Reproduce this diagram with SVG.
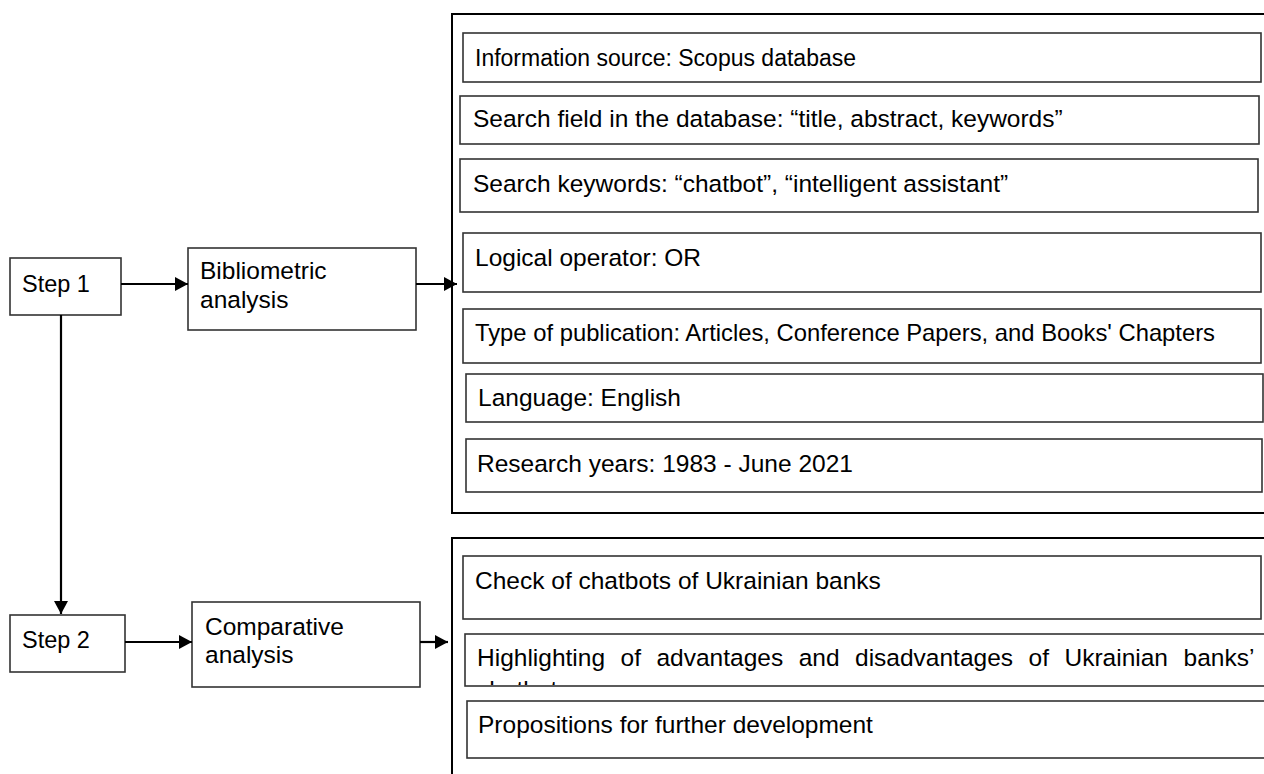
<svg xmlns="http://www.w3.org/2000/svg" width="1264" height="774" viewBox="0 0 1264 774">
<style>
.box{fill:#fff;stroke:#333;stroke-width:1.6}
.cont{fill:none;stroke:#000;stroke-width:2}
.conn{fill:none;stroke:#000;stroke-width:2.2}
text{font-family:"Liberation Sans",Arial,sans-serif;font-size:24.5px;fill:#000}
</style>
<defs>
<marker id="arr" markerUnits="userSpaceOnUse" markerWidth="14" markerHeight="16" refX="13" refY="8" orient="auto">
<path d="M0,1 L13,8 L0,15 z" fill="#000"/>
</marker>
<clipPath id="clipHL"><rect x="465" y="634" width="800" height="51"/></clipPath>
</defs>
<rect width="1264" height="774" fill="#fff"/>

<g id="container1"><path class="cont" d="M1270,14 H452 V513 H1270"/></g>
<g id="container2"><path class="cont" d="M1270,538 H452 V780"/></g>

<g id="step1"><rect class="box" x="10" y="258" width="111" height="57"/><text x="22" y="292" style="font-size:23.5px">Step 1</text></g>
<g id="biblio"><rect class="box" x="188" y="248" width="228" height="82"/><text x="200" y="279">Bibliometric</text><text x="200" y="308">analysis</text></g>
<g id="step2"><rect class="box" x="10" y="615" width="115" height="57"/><text x="22" y="648" style="font-size:23.5px">Step 2</text></g>
<g id="comp"><rect class="box" x="192" y="602" width="228" height="85"/><text x="205" y="635">Comparative</text><text x="205" y="663">analysis</text></g>

<g id="info"><rect class="box" x="463" y="33" width="798" height="49"/><text x="475" y="66" style="font-size:23px">Information source: Scopus database</text></g>
<g id="field"><rect class="box" x="460" y="96" width="799" height="48"/><text x="473" y="127">Search field in the database: “title, abstract, keywords”</text></g>
<g id="keywords"><rect class="box" x="460" y="159" width="798" height="53"/><text x="473" y="192">Search keywords: “chatbot”, “intelligent assistant”</text></g>
<g id="logical"><rect class="box" x="463" y="233" width="798" height="59"/><text x="475" y="266">Logical operator: OR</text></g>
<g id="type"><rect class="box" x="463" y="309" width="798" height="54"/><text x="475" y="341" style="font-size:23.8px">Type of publication: Articles, Conference Papers, and Books' Chapters</text></g>
<g id="language"><rect class="box" x="466" y="374" width="797" height="48"/><text x="478" y="406">Language: English</text></g>
<g id="research"><rect class="box" x="466" y="439" width="796" height="53"/><text x="477" y="472">Research years: 1983 - June 2021</text></g>

<g id="check"><rect class="box" x="463" y="556" width="798" height="63"/><text x="475" y="589">Check of chatbots of Ukrainian banks</text></g>
<g id="highlight"><rect class="box" x="465" y="634" width="810" height="52"/><g clip-path="url(#clipHL)"><text x="477" y="666" word-spacing="8.7">Highlighting of advantages and disadvantages of Ukrainian banks’</text><text x="477" y="698">chatbots</text></g></g>
<g id="propositions"><rect class="box" x="467" y="701" width="810" height="57"/><text x="478" y="733">Propositions for further development</text></g>

<g id="connectors">
<line class="conn" x1="121" y1="284" x2="188" y2="284" marker-end="url(#arr)"/>
<line class="conn" x1="416" y1="284" x2="457" y2="284" marker-end="url(#arr)"/>
<line class="conn" x1="61" y1="315" x2="61" y2="614" marker-end="url(#arr)"/>
<line class="conn" x1="125" y1="642" x2="192" y2="642" marker-end="url(#arr)"/>
<line class="conn" x1="420" y1="642" x2="448" y2="642" marker-end="url(#arr)"/>
</g>
</svg>
